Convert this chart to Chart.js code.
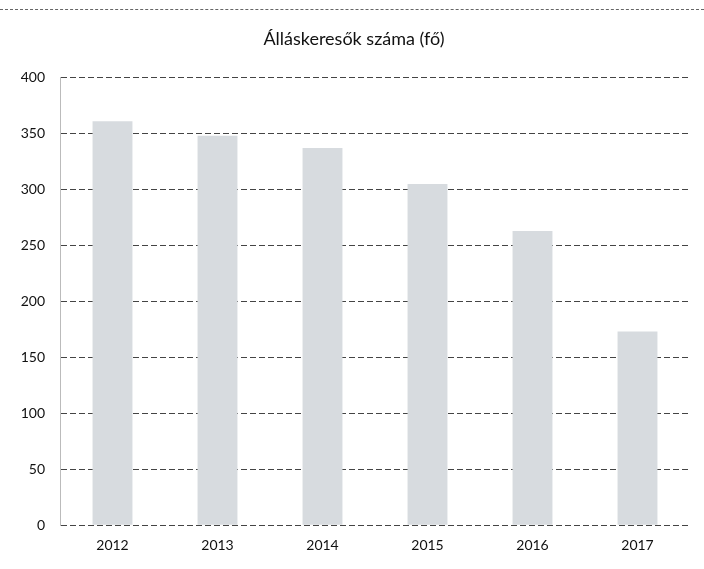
<!DOCTYPE html>
<html>
<head>
<meta charset="utf-8">
<script src="https://cdn.jsdelivr.net/npm/chart.js@4.4.1/dist/chart.umd.min.js"></script>
<style>
    html, body { margin: 0; padding: 0; background: #fff; }
    #wrap { position: relative; width: 704px; height: 569px; }
    #wrap canvas { position: absolute; left: 0; top: 0; }
    #topline {
        position: absolute; left: 0; width: 704px; top: 9px; height: 0;
        border-top: 1px dashed #666; z-index: 2;
    }
</style>
</head>
<body>
<div id="wrap"><canvas id="bar-graph" width="704" height="569"></canvas><div id="topline"></div></div>
<script>
    const years = ['2012', '2013', '2014', '2015', '2016', '2017'];
    const seekers = [361, 348, 337, 305, 263, 173];
    const yTicks = [0, 50, 100, 150, 200, 250, 300, 350, 400];

    const fontFamily = 'Lato, "Noto Sans", sans-serif';

    new Chart(document.getElementById('bar-graph'), {
        type: 'bar',
        data: {
            labels: years,
            datasets: [{
                label: 'Álláskeresők száma (fő)',
                data: seekers,
                backgroundColor: '#d7dbdf',
                borderWidth: 0,
                categoryPercentage: 1,
                barPercentage: 0.38
            }]
        },
        options: {
            responsive: false,
            animation: false,
            layout: { padding: { top: 20, right: 14, bottom: 3, left: 18 } },
            plugins: {
                legend: { display: false },
                tooltip: { enabled: false },
                title: {
                    display: true,
                    text: 'Álláskeresők száma (fő)',
                    color: '#111',
                    font: { family: fontFamily, size: 18, weight: 'normal' },
                    padding: { top: 8, bottom: 28 }
                }
            },
            scales: {
                x: {
                    grid: { display: false, drawTicks: false },
                    border: { display: false },
                    ticks: {
                        color: '#111',
                        padding: 12,
                        font: { family: fontFamily, size: 14 }
                    }
                },
                y: {
                    min: 0,
                    max: 400,
                    afterFit: function(scale) { scale.width = 42; },
                    afterBuildTicks: function(scale) {
                        scale.ticks = yTicks.map(v => ({ value: v }));
                    },
                    grid: {
                        color: '#444',
                        lineWidth: 1,
                        drawTicks: false
                    },
                    // in v4 the border dash is also used for the grid lines
                    border: { display: true, color: '#bbb', dash: [6, 3] },
                    ticks: {
                        color: '#111',
                        padding: 15,
                        font: { family: fontFamily, size: 14 }
                    }
                }
            }
        }
    });
</script>
</body>
</html>
